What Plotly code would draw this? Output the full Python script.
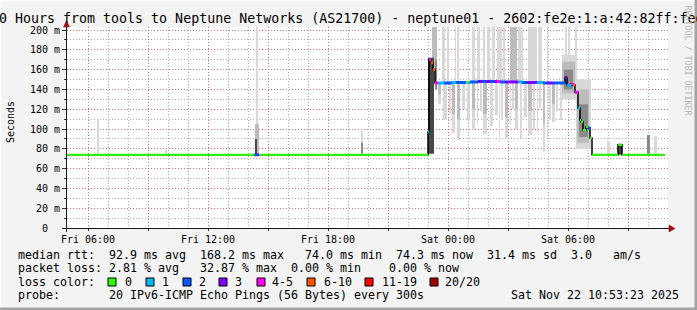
import plotly.graph_objects as go

# ---------------- data ----------------
# time axis: hours since Fri 2025-11-21 00:00
T_START, T_END = 4.95, 35.0

x_tick_vals = [6, 9, 12, 15, 18, 21, 24, 27, 30, 33]
x_tick_text = ["Fri 06:00", "", "Fri 12:00", "", "Fri 18:00", "", "Sat 00:00", "", "Sat 06:00", ""]
y_tick_vals = [0, 20, 40, 60, 80, 100, 120, 140, 160, 180, 200]
y_tick_text = ["0\u00a0\u00a0", "20 m", "40 m", "60 m", "80 m", "100 m", "120 m",
               "140 m", "160 m", "180 m", "200 m"]

# median rtt (ms) and lost pings (of 20); each value holds until the next time
med_t = [4.95, 14.30, 14.45, 14.55, 23.00, 23.05, 23.15, 23.25, 23.35, 23.50, 23.80,
         24.20, 24.40, 24.90, 25.00, 25.10, 25.50, 25.70, 25.90, 26.10, 26.30, 26.45,
         26.60, 26.85, 27.50, 27.70, 27.95, 28.45, 28.75, 28.95, 29.25, 29.60, 29.85,
         29.95, 30.15, 30.25, 30.35, 30.50, 30.60, 30.65, 30.75, 30.90, 31.00, 31.10,
         31.20, 32.50, 32.70, 34.85]
med_v = [74, 74, 74, 74, 97, 170, 167, 160, 146.5, 146.5, 146.5,
         147, 147, 147, 147, 147.5, 148, 148, 148, 148, 148, 148,
         147.5, 147.5, 147.5, 147, 147, 147, 146.5, 146.5, 146.5, 146.5, 152,
         144, 145.5, 144.5, 137, 121, 109, 107, 99, 102, 101, 91,
         74, 84, 74, 74]
med_loss = [0, 2, 3, 0, 1, 4, 8, 7, 5, 1, 2,
            1, 2, 0, 1, 2, 3, 2, 3, 2, 3, 5,
            2, 3, 1, 2, 3, 1, 2, 3, 2, 2, 3,
            1, 5, 7, 5, 1, 0, 0, 0, 0, 2, 0,
            0, 0, 0, 0]

loss_labels = ["0", "1", "2", "3", "4-5", "6-10", "11-19", "20/20"]
loss_upper = [0, 1, 2, 3, 5, 10, 19, 20]
loss_colors = ["#26ff00", "#00b8ff", "#0059ff", "#7e00ff", "#ff00ff", "#ff5500", "#ff0000", "#a10000"]

# smoke (ping spread), light layer: start h, end h, low ms, high ms
smoke_light_t0 = [6.45, 9.85, 14.40, 19.65,
                  23.70, 23.95, 24.35, 24.45, 25.20, 25.45, 25.75, 25.95, 26.20, 26.45, 26.75,
                  27.50, 28.00, 28.50, 28.95, 29.85, 30.00, 30.35,
                  23.50, 23.75, 24.05, 24.20, 24.45, 24.70, 24.95, 25.20, 25.45, 25.60, 25.75,
                  26.10, 26.35, 26.55, 26.65, 26.85, 27.10, 27.20, 27.35, 27.60, 27.80, 28.00,
                  28.25, 28.45, 28.55, 28.75, 28.95, 29.05, 29.20, 29.40, 29.60,
                  29.70, 30.40, 31.95, 34.30]
smoke_light_t1 = [6.55, 9.95, 14.47, 19.75,
                  23.85, 24.05, 24.40, 24.55, 25.35, 25.60, 25.85, 26.10, 26.35, 26.70, 26.85,
                  27.75, 28.45, 28.70, 29.00, 29.95, 30.10, 30.45,
                  23.65, 23.95, 24.15, 24.35, 24.60, 24.85, 25.10, 25.35, 25.50, 25.70, 25.95,
                  26.25, 26.50, 26.60, 26.75, 27.00, 27.15, 27.30, 27.50, 27.70, 27.95, 28.20,
                  28.35, 28.50, 28.65, 28.85, 29.00, 29.15, 29.35, 29.50, 29.70,
                  30.40, 31.15, 32.10, 34.45]
smoke_light_lo = [75, 75, 75, 75,
                  147, 147, 147, 147, 147, 147, 147, 147, 147, 147, 147,
                  147, 147, 147, 147, 147, 147, 147,
                  125, 109, 115, 96, 89, 120, 109, 99, 105, 118, 95,
                  103, 114, 87, 110, 91, 104, 120, 100, 91, 112, 94,
                  99, 97, 121, 77, 91, 109, 107, 118, 109,
                  130, 80, 75, 74]
smoke_light_hi = [110, 79, 205, 98,
                  205, 205, 205, 205, 205, 205, 205, 205, 205, 205, 205,
                  205, 205, 205, 205, 205, 205, 205,
                  147, 147, 147, 147, 147, 147, 147, 147, 147, 147, 147,
                  147, 147, 147, 147, 147, 147, 147, 147, 147, 147, 147,
                  147, 147, 147, 147, 147, 147, 147, 147, 147,
                  175, 150, 88, 93]

# medium smoke layer
smoke_mid_t0 = [14.35, 23.20, 27.10, 23.50, 24.20, 24.45, 25.20, 25.75, 26.85, 27.35, 28.00,
                28.75, 29.20, 29.70, 30.45]
smoke_mid_t1 = [14.55, 23.45, 27.45, 23.65, 24.35, 24.60, 25.35, 25.95, 27.00, 27.50, 28.20,
                28.85, 29.35, 30.35, 31.05]
smoke_mid_lo = [75, 147, 147, 135, 115, 110, 120, 115, 112, 120, 118, 105, 125, 136, 86]
smoke_mid_hi = [105, 205, 205, 147, 147, 147, 147, 147, 147, 147, 147, 147, 147, 168, 140]

# dark smoke layer
smoke_dark_t0 = [19.65, 23.35, 29.80, 30.55, 33.95]
smoke_dark_t1 = [19.72, 23.45, 30.25, 31.00, 34.10]
smoke_dark_lo = [75, 140, 140, 92, 74]
smoke_dark_hi = [86, 170, 160, 125, 94]

# darkest smoke layer
smoke_black_t0 = [14.35, 23.00, 32.50]
smoke_black_t1 = [14.45, 23.30, 32.70]
smoke_black_lo = [75, 75, 74]
smoke_black_hi = [90, 172, 85]

# legend text
stat_rtt = "median rtt:  92.9 ms avg  168.2 ms max   74.0 ms min  74.3 ms now  31.4 ms sd  3.0   am/s"
stat_loss = "packet loss: 2.81 % avg   32.87 % max  0.00 % min    0.00 % now"
probe_text = "probe:       20 IPv6-ICMP Echo Pings (56 Bytes) every 300s"
date_text = "Sat Nov 22 10:53:23 2025"
title_text = "30 Hours from tools to Neptune Networks (AS21700) - neptune01 - 2602:fe2e:1:a:42:82ff:fed"

# ---------------- figure ----------------
W, H = 697, 310
PL, PT, PW, PH = 67, 27, 601, 201
MONO = "DejaVu Sans Mono"


def fx(p):
    return (p - PL) / PW


def fy(p):
    return (PT + PH - p) / PH


def nb(s):
    return s.replace(" ", "\u00a0")


fig = go.Figure()


def add_smoke(t0, t1, lo, hi, color):
    fig.add_trace(go.Bar(
        x=[(a + b) / 2 for a, b in zip(t0, t1)],
        width=[b - a for a, b in zip(t0, t1)],
        base=lo,
        y=[h - l for l, h in zip(lo, hi)],
        marker=dict(color=color, line=dict(width=0)),
        hoverinfo="skip",
    ))


add_smoke(smoke_light_t0, smoke_light_t1, smoke_light_lo, smoke_light_hi, "#d8d8d8")
add_smoke(smoke_mid_t0, smoke_mid_t1, smoke_mid_lo, smoke_mid_hi, "#bcbcbc")
add_smoke(smoke_dark_t0, smoke_dark_t1, smoke_dark_lo, smoke_dark_hi, "#8a8a8a")
add_smoke(smoke_black_t0, smoke_black_t1, smoke_black_lo, smoke_black_hi, "#474747")

# black median step line
fig.add_trace(go.Scatter(x=med_t, y=med_v, mode="lines",
                         line=dict(color="black", width=1.5, shape="hv"), hoverinfo="skip"))


def loss_class(n):
    for i, u in enumerate(loss_upper):
        if n <= u:
            return i
    return len(loss_upper) - 1


for ci, col in enumerate(loss_colors):
    xs, ys = [], []
    for i in range(len(med_t) - 1):
        if loss_class(med_loss[i]) == ci:
            xs += [med_t[i], med_t[i + 1], None]
            ys += [med_v[i], med_v[i], None]
    if xs:
        fig.add_trace(go.Scatter(x=xs, y=ys, mode="lines",
                                 line=dict(color=col, width=3 if ci else 2.2), hoverinfo="skip"))

major_grid = "rgba(240,70,70,0.62)"
minor_grid = "rgba(110,110,110,0.6)"

fig.update_layout(
    width=W, height=H,
    margin=dict(l=PL, r=W - PL - PW, t=PT, b=H - PT - PH, pad=0),
    paper_bgcolor="#f3f3f3", plot_bgcolor="#ffffff",
    showlegend=False, barmode="overlay",
    font=dict(family=MONO, size=10, color="#000000"),
    xaxis=dict(
        range=[T_START, T_END], tickmode="array", tickvals=x_tick_vals, ticktext=x_tick_text,
        showgrid=True, gridcolor=major_grid, griddash="1px,2px", gridwidth=1,
        ticks="outside", ticklen=2, tickcolor="#333333", showline=False, zeroline=False,
        tickfont=dict(family=MONO, size=10, color="#000000"),
        minor=dict(tickmode="linear", tick0=0, dtick=1, showgrid=True,
                   gridcolor=minor_grid, griddash="1px,2px", ticks=""),
        fixedrange=True,
    ),
    yaxis=dict(
        range=[0, PH / 0.99], tickmode="array", tickvals=y_tick_vals, ticktext=y_tick_text,
        showgrid=True, gridcolor=major_grid, griddash="1px,2px", gridwidth=1,
        ticks="outside", ticklen=4, tickcolor="#333333", showline=False, zeroline=False,
        tickfont=dict(family=MONO, size=10, color="#000000"),
        minor=dict(tickmode="linear", tick0=0, dtick=10, showgrid=True,
                   gridcolor=minor_grid, griddash="1px,2px", ticks="outside", ticklen=2,
                   tickcolor="#333333"),
        fixedrange=True,
    ),
)

shapes = []
# frame of the image
shapes.append(dict(type="rect", xref="paper", yref="paper", x0=fx(0), x1=fx(697), y0=fy(0), y1=fy(1.2),
                   fillcolor="#fcfcfc", line=dict(width=0), layer="below"))
shapes.append(dict(type="rect", xref="paper", yref="paper", x0=fx(0), x1=fx(1.2), y0=fy(0), y1=fy(310),
                   fillcolor="#fcfcfc", line=dict(width=0), layer="below"))
shapes.append(dict(type="rect", xref="paper", yref="paper", x0=fx(694.5), x1=fx(697), y0=fy(0), y1=fy(310),
                   fillcolor="#a3a3a3", line=dict(width=0)))
shapes.append(dict(type="rect", xref="paper", yref="paper", x0=fx(0), x1=fx(697), y0=fy(307.5), y1=fy(310),
                   fillcolor="#a3a3a3", line=dict(width=0)))
# axis lines
shapes.append(dict(type="line", xref="paper", yref="paper", x0=fx(62), x1=fx(669), y0=fy(228.5), y1=fy(228.5),
                   line=dict(color="#1a1a1a", width=1)))
shapes.append(dict(type="line", xref="paper", yref="paper", x0=fx(66.5), x1=fx(66.5), y0=fy(232), y1=fy(26),
                   line=dict(color="#1a1a1a", width=1)))
# arrows
shapes.append(dict(type="path", xref="paper", yref="paper",
                   path=f"M {fx(669)},{fy(225)} L {fx(675)},{fy(228.5)} L {fx(669)},{fy(232)} Z",
                   fillcolor="#9c0c0c", line=dict(color="#9c0c0c", width=0.5)))
shapes.append(dict(type="path", xref="paper", yref="paper",
                   path=f"M {fx(63.5)},{fy(27)} L {fx(66.5)},{fy(20.5)} L {fx(69.5)},{fy(27)} Z",
                   fillcolor="#9c0c0c", line=dict(color="#9c0c0c", width=0.5)))

annotations = []


def text(px, py, s, size=11.63, anchor="left", color="#000000", angle=0, yanchor="middle"):
    annotations.append(dict(x=fx(px), y=fy(py), xref="paper", yref="paper", text=nb(s),
                            showarrow=False, xanchor=anchor, yanchor=yanchor, textangle=angle,
                            font=dict(family=MONO, size=size, color=color)))


text(-11, 19, title_text, size=13.3)
text(10.5, 122.5, "Seconds", size=10, anchor="center", angle=-90)
text(687.5, 60, "RRDTOOL / TOBI OETIKER", size=8.3, anchor="center", color="#b5b5b5", angle=90)
text(16, 254.5, stat_rtt)
text(16, 268, stat_loss)
text(16, 281.6, "loss color:")
text(16, 295, probe_text)
text(681, 295, date_text, anchor="right")

box_x = [108, 146, 183, 219, 257, 307, 365, 430]
label_x = [123, 160, 197, 233, 270, 322, 380, 443]
for bx, lx, lab, col in zip(box_x, label_x, loss_labels, loss_colors):
    shapes.append(dict(type="rect", xref="paper", yref="paper", x0=fx(bx), x1=fx(bx + 8),
                       y0=fy(278), y1=fy(286), fillcolor=col, line=dict(color="#000000", width=1)))
    text(lx, 281.6, lab)

fig.update_layout(shapes=shapes, annotations=annotations)

fig.write_html("out.html")
